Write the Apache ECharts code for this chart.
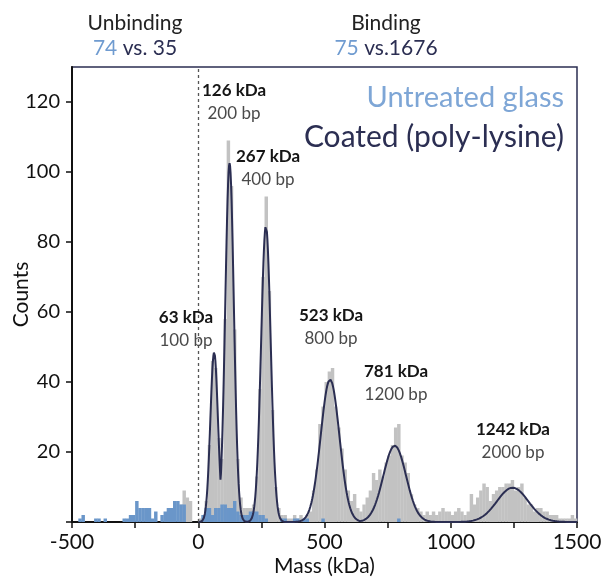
<!DOCTYPE html>
<html><head><meta charset="utf-8">
<script src="https://cdn.jsdelivr.net/npm/echarts@6/dist/echarts.min.js"></script>
<style>html,body{margin:0;padding:0;background:#fff}#c{width:601px;height:579px}</style>
</head><body><div id="c"></div>
<script>
// histogram bins: start and width (kDa)
const binStart = -500;
const binWidth = 12.5;
// coated (poly-lysine) counts, 160 bins from -500 to 1500 kDa
const coatedCounts = [
 0,0,0,0,0,0,0,0,0,0, 0,0,0,0,0,0,0,0,0,0,
 0,0,0,0,0,0,0,0,0,0, 0,0,0,0,5,9,7,6,0,0,
 1,2,6,22,46,44,24,18,58,109, 96,55,18,7,4,4,4,5,13,38,
 70,93,66,32,10,4,2,2,1,1, 2,1,2,1,2,3,9,15,28,33,
 40,43,44,33,27,21,15,9,6,8, 4,3,5,7,9,14,12,15,13,17,
 19,22,27,28,19,17,14,8,5,4, 3,2,3,2,3,2,3,4,3,3,
 2,3,4,3,2,3,8,5,7,9, 11,10,6,8,9,10,10,11,11,12,
 9,10,11,7,5,5,3,4,4,3, 3,2,2,2,1,1,1,1,2,1
];
// untreated glass counts, same bins
const untreatedCounts = [
 0,0,1,2,0,0,0,1,1,0, 1,0,0,0,0,0,1,1,2,2,
 6,4,4,4,4,1,3,0,2,3, 4,4,6,6,5,5,0,0,0,0,
 0,2,4,4,2,4,4,5,5,4, 4,6,3,2,2,2,3,3,3,2,
 2,1,0,0,0,0,1,1,0,0, 1,1,0,1,1,0,0,0,0,1,
 0,0,0,0,0,0,0,0,0,0, 0,0,0,0,0,0,0,0,0,0,
 0,0,0,1,0,0,0,0,0,0, 0,0,0,0,0,0,0,0,0,0,
 0,0,0,0,0,0,0,0,0,0, 0,0,0,0,0,0,0,0,0,0,
 0,0,0,0,0,0,0,0,0,0, 0,0,0,0,0,0,0,0,0,0
];
// Gaussian fit parameters
const peakCenters = [63, 124, 268, 522, 778, 1245];
const peakHeights = [48.5, 102.5, 84.7, 40.7, 21.8, 9.8];
const peakSigmas  = [15, 17, 19, 37, 45, 62];
const peakMassLabels = ['63 kDa','126 kDa','267 kDa','523 kDa','781 kDa','1242 kDa'];
const peakBpLabels   = ['100 bp','200 bp','400 bp','800 bp','1200 bp','2000 bp'];
// axis ticks / labels
const xTicks  = [-500,-250,0,250,500,750,1000,1250,1500];
const xLabels = [-500,0,500,1000,1500];
const yTicks  = [0,20,40,60,80,100,120];
const yLabels = [20,40,60,80,100,120];
const topGroups = [
  {title:'Unbinding', a:'74', b:' vs. 35'},
  {title:'Binding',   a:'75', b:' vs.1676'}
];

const FONT = 'Lato, "Open Sans", sans-serif';
const NAVY = '#2b2e52';
const BLUE = '#6a96c9';
const GRAY = '#c2c2c2';

function binData(counts){
  return counts.map((c,i)=>[binStart+i*binWidth, binStart+(i+1)*binWidth, c]);
}
function barRender(color){
  return function(params, api){
    const v = api.value(2);
    if (!v) return null;
    const p0 = api.coord([api.value(0), v]);
    const p1 = api.coord([api.value(1), 0]);
    return {type:'rect', shape:{x:p0[0], y:p0[1], width:p1[0]-p0[0]+0.3, height:p1[1]-p0[1]}, style:{fill:color}};
  };
}
// fitted model curve: envelope of the fitted Gaussian components
const fitCurve = [];
for (let m = 0; m <= 1500; m += 2) {
  let y = 0;
  for (let k = 0; k < peakCenters.length; k++) {
    const d = (m - peakCenters[k]) / peakSigmas[k];
    y = Math.max(y, peakHeights[k] * Math.exp(-0.5*d*d));
  }
  fitCurve.push([m, y]);
}

const chart = echarts.init(document.getElementById('c'), null, {renderer:'canvas'});

const peakLabelPos = [[186,318],[234,91],[268,157],[331,316],[396,372],[513,430]];
const graphics = [];
peakMassLabels.forEach((t,i)=>{
  graphics.push({type:'text', x:peakLabelPos[i][0], y:peakLabelPos[i][1], z:100,
    style:{text:t, font:'bold 17px '+FONT, fill:'#151515', textAlign:'center', textVerticalAlign:'middle'}});
  graphics.push({type:'text', x:peakLabelPos[i][0], y:peakLabelPos[i][1]+23, z:100,
    style:{text:peakBpLabels[i], font:'17px '+FONT, fill:'#4a4a4a', textAlign:'center', textVerticalAlign:'middle'}});
});
const groupX = [135, 386];
topGroups.forEach((g,i)=>{
  graphics.push({type:'text', x:groupX[i], y:23, style:{text:g.title, font:'21px '+FONT, fill:'#222', textAlign:'center', textVerticalAlign:'middle'}});
  graphics.push({type:'text', x:groupX[i], y:48, style:{
    text:'{a|'+g.a+'}{b|'+g.b+'}', textAlign:'center', textVerticalAlign:'middle',
    rich:{a:{font:'21px '+FONT, fill:'#6f9bd0'}, b:{font:'21px '+FONT, fill:NAVY}}}});
});
graphics.push({type:'text', x:564, y:98, z:100, style:{text:'Untreated glass', font:'29px '+FONT, fill:'#7ea6d6', textAlign:'right', textVerticalAlign:'middle'}});
graphics.push({type:'text', x:564, y:137, z:100, style:{text:'Coated (poly-lysine)', font:'30px '+FONT, fill:NAVY, textAlign:'right', textVerticalAlign:'middle'}});

chart.setOption({
  animation:false,
  backgroundColor:'#fff',
  grid:{left:72, right:24, top:67, bottom:57, containLabel:false, outerBoundsMode:'none',
        show:true, borderColor:NAVY, borderWidth:1.5, backgroundColor:'transparent'},
  xAxis:{type:'value', min:-500, max:1500, interval:250,
    axisLine:{show:true, onZero:false, lineStyle:{color:'#111', width:2}},
    axisTick:{show:true, length:6, lineStyle:{color:'#111', width:1.5}, customValues:xTicks},
    axisLabel:{fontSize:21, color:'#111', fontFamily:FONT, margin:10, customValues:xLabels,
      formatter:v=>String(v)},
    splitLine:{show:false},
    name:'Mass (kDa)', nameLocation:'middle', nameGap:34, nameMoveOverlap:false,
    nameTextStyle:{fontSize:21, color:'#111', fontFamily:FONT}},
  yAxis:{type:'value', min:0, max:130, interval:20,
    axisLine:{show:true, onZero:false, lineStyle:{color:'#111', width:2}},
    axisTick:{show:true, length:6, lineStyle:{color:'#111', width:1.5}, customValues:yTicks},
    axisLabel:{fontSize:20, color:'#111', fontFamily:FONT, margin:12, customValues:yLabels,
      formatter:v=>String(v)},
    splitLine:{show:false},
    name:'Counts', nameLocation:'middle', nameGap:40, nameRotate:90, nameMoveOverlap:false,
    nameTextStyle:{fontSize:21, color:'#111', fontFamily:FONT}},
  series:[
    {type:'custom', name:'Coated (poly-lysine)', renderItem:barRender(GRAY), data:binData(coatedCounts),
     encode:{x:[0,1], y:2}, z:1, silent:true},
    {type:'custom', name:'Untreated glass', renderItem:barRender(BLUE), data:binData(untreatedCounts),
     encode:{x:[0,1], y:2}, z:2, silent:true},
    {type:'line', name:'fit', data:fitCurve, showSymbol:false, symbol:'none', z:3, silent:true,
     lineStyle:{color:NAVY, width:2}, 
     markLine:{silent:true, symbol:'none', label:{show:false},
       lineStyle:{color:'#555', type:[3,3], width:1.3}, data:[{xAxis:0}]}}
  ],
  graphic:graphics
});
</script></body></html>
